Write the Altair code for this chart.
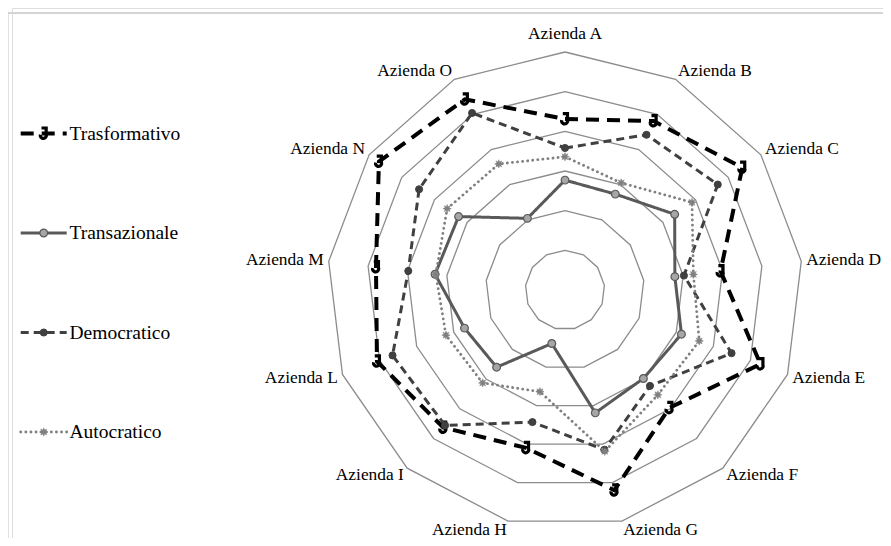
import math
import altair as alt
import pandas as pd

# ---------------- data ----------------
categories = ["Azienda A", "Azienda B", "Azienda C", "Azienda D", "Azienda E",
              "Azienda F", "Azienda G", "Azienda H", "Azienda I", "Azienda L",
              "Azienda M", "Azienda N", "Azienda O"]
series_names = ["Trasformativo", "Transazionale", "Democratico", "Autocratico"]
trasformativo = [4.31, 4.81, 5.43, 3.95, 5.27, 3.97, 5.20, 4.10, 4.63, 5.07, 4.80, 5.70, 5.43]
transazionale = [2.77, 2.73, 3.36, 2.79, 3.14, 2.98, 3.19, 1.39, 2.60, 2.71, 3.30, 3.26, 2.04]
democratico   = [3.58, 4.42, 4.68, 3.02, 4.49, 3.23, 4.15, 3.43, 4.56, 4.65, 3.98, 4.47, 5.04]
autocratico   = [3.36, 3.05, 3.89, 3.26, 3.62, 3.53, 4.19, 2.64, 3.13, 3.21, 3.28, 3.61, 3.59]
ring_levels = [1, 2, 3, 4, 5, 6]
values = [trasformativo, transazionale, democratico, autocratico]

# ---------------- layout ----------------
W, H = 871, 530
PAD_L = 4
OX, OY = 8 + PAD_L, 8            # page position of plot origin
CX, CY = 553, 282                # polar centre in plot pixels
UNIT = 238 / 6                   # pixels per value unit
N = len(categories)

xscale = alt.Scale(domain=[-CX / UNIT, (W - CX) / UNIT], nice=False, zero=False)
yscale = alt.Scale(domain=[(CY - H) / UNIT, CY / UNIT], nice=False, zero=False)
X = lambda f: alt.X(f, type="quantitative", scale=xscale, axis=None)
Y = lambda f: alt.Y(f, type="quantitative", scale=yscale, axis=None)


def page_x(px):
    return (px - OX - CX) / UNIT


def page_y(py):
    return (CY - (py - OY)) / UNIT


def ang(i):
    return 2 * math.pi * i / N


# rings
ring_rows = []
for lv in ring_levels:
    for j in range(N + 1):
        a = ang(j % N)
        ring_rows.append({"level": lv, "j": j, "x": lv * math.sin(a), "y": lv * math.cos(a)})
rings = alt.Chart(pd.DataFrame(ring_rows)).mark_line(
    color="#8c8c8c", strokeWidth=1.3).encode(
    x=X("x"), y=Y("y"), detail="level:N", order="j:Q")

# legend geometry
LEG_Y = [133.5 + 99.5 * i for i in range(4)]
LEG_X0, LEG_X1, LEG_TX = 20.7, 66.7, 69.5


def series_frames(k):
    vals = values[k]
    line_rows, pt_rows = [], []
    for j in range(N + 1):
        i = j % N
        a = ang(i)
        line_rows.append({"grp": "poly", "j": j,
                          "x": vals[i] * math.sin(a), "y": vals[i] * math.cos(a)})
    for i in range(N):
        a = ang(i)
        pt_rows.append({"x": vals[i] * math.sin(a), "y": vals[i] * math.cos(a),
                        "cat": categories[i]})
    ly = page_y(LEG_Y[k])
    line_rows.append({"grp": "leg", "j": 0, "x": page_x(LEG_X0), "y": ly})
    line_rows.append({"grp": "leg", "j": 1, "x": page_x(LEG_X1), "y": ly})
    pt_rows.append({"x": page_x((LEG_X0 + LEG_X1) / 2), "y": ly, "cat": "legend"})
    return pd.DataFrame(line_rows), pd.DataFrame(pt_rows)


hook = "M-0.4,-1 L0.45,-1 L0.45,0.15 A0.55,0.55 0 1 1 -0.6,0.2"
star_pts = []
for q in range(16):
    r = 1.0 if q % 2 == 0 else 0.5
    a = q * math.pi / 8
    star_pts.append(f"{r * math.cos(a):.3f},{r * math.sin(a):.3f}")
star = "M" + " L".join(star_pts) + " Z"

styles = [
    dict(color="#000000", width=4, dash=[13, 8], cap="butt",
         shape=hook, size=120, filled=False, fill=None, pstroke="#000000", pw=3.2),
    dict(color="#595959", width=3, dash=[1, 0], cap="butt",
         shape="circle", size=60, filled=True, fill="#a6a6a6", pstroke="#595959", pw=1.2),
    dict(color="#404040", width=3, dash=[8, 5], cap="butt",
         shape="circle", size=50, filled=True, fill="#404040", pstroke="#404040", pw=1),
    dict(color="#808080", width=2.8, dash=[0.1, 5], cap="round",
         shape=star, size=70, filled=True, fill="#808080", pstroke="#808080", pw=0.5),
]

layers = [rings]
for k, st in enumerate(styles):
    ldf, pdf = series_frames(k)
    layers.append(alt.Chart(ldf).mark_line(
        color=st["color"], strokeWidth=st["width"], strokeDash=st["dash"],
        strokeCap=st["cap"]).encode(x=X("x"), y=Y("y"), detail="grp:N", order="j:Q"))
    if st["filled"]:
        pm = alt.Chart(pdf).mark_point(shape=st["shape"], size=st["size"], filled=True,
                                       fill=st["fill"], stroke=st["pstroke"],
                                       strokeWidth=st["pw"], opacity=1)
    else:
        pm = alt.Chart(pdf).mark_point(shape=st["shape"], size=st["size"], filled=False,
                                       color=st["pstroke"], strokeWidth=st["pw"], opacity=1)
    layers.append(pm.encode(x=X("x"), y=Y("y")))

# category labels (placed just outside the outer ring)
lab_rows = []
for i, c in enumerate(categories):
    a = ang(i)
    s, co = math.sin(a), math.cos(a)
    al = "left" if s > 0.05 else ("right" if s < -0.05 else "center")
    up = 247.4 * co + (9 if al == "center" else 0)
    lab_rows.append({"cat": c, "x": 243 * s / UNIT, "y": up / UNIT, "al": al})
lab_df = pd.DataFrame(lab_rows)
for al in ["left", "center", "right"]:
    layers.append(alt.Chart(lab_df).transform_filter(alt.datum.al == al).mark_text(
        align=al, baseline="middle", font="Liberation Serif", fontSize=17.4, color="#000000"
    ).encode(x=X("x"), y=Y("y"), text="cat:N"))

# legend text
leg_df = pd.DataFrame({"name": series_names,
                       "x": [page_x(LEG_TX)] * 4,
                       "y": [page_y(v) for v in LEG_Y]})
layers.append(alt.Chart(leg_df).mark_text(
    align="left", baseline="middle", font="Liberation Serif", fontSize=19.5, color="#000000"
).encode(x=X("x"), y=Y("y"), text="name:N"))

# frame (decoration)
layers.append(alt.Chart(pd.DataFrame({"a": [0]})).mark_rule(color="#d4d4d4", strokeWidth=2).encode(
    x=alt.value(-5), x2=alt.value(W), y=alt.value(5)))
layers.append(alt.Chart(pd.DataFrame({"a": [0]})).mark_rule(color="#d4d4d4", strokeWidth=2).encode(
    x=alt.value(-4.3), y=alt.value(5), y2=alt.value(H)))

chart = alt.layer(*layers).properties(
    width=W, height=H, autosize="none",
    padding={"left": PAD_L, "top": 0, "right": 0, "bottom": 0}
).configure_view(stroke=None).configure(background="white")

chart.save("out.html", embed_options={"renderer": "svg", "actions": False})
